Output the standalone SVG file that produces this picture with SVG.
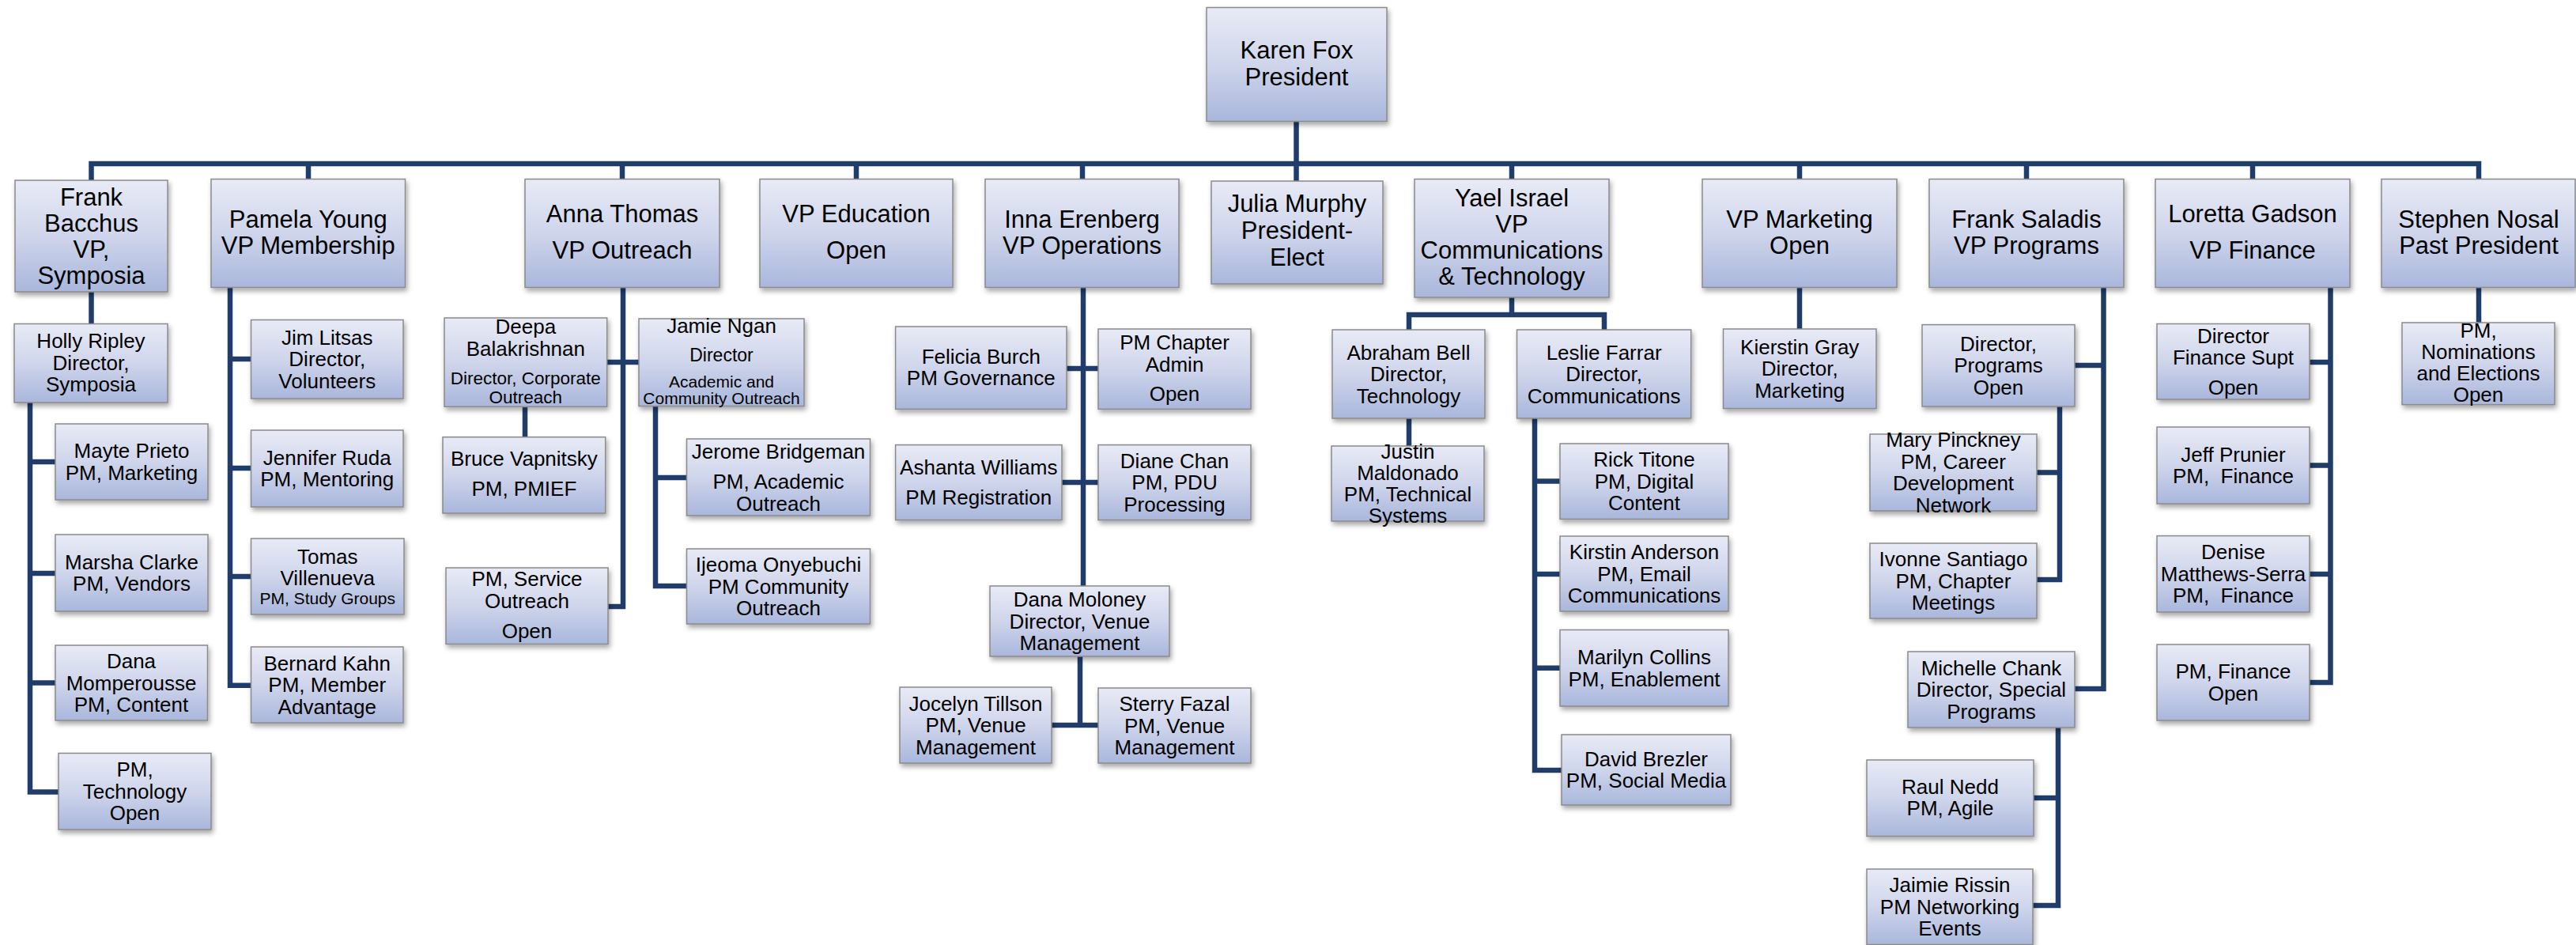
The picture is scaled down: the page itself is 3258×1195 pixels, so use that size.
<svg xmlns="http://www.w3.org/2000/svg" width="3258" height="1195" viewBox="0 0 3258 1195">
<defs>
<linearGradient id="g" x1="0" y1="0" x2="0" y2="1">
<stop offset="0" stop-color="#E8EBF6"/>
<stop offset="0.5" stop-color="#CFD5EB"/>
<stop offset="1" stop-color="#A9B7DC"/>
</linearGradient>
<filter id="sh" x="-10%" y="-10%" width="125%" height="135%">
<feDropShadow dx="2" dy="4" stdDeviation="3" flood-color="#000" flood-opacity="0.35"/>
</filter>
<style>
.b{fill:url(#g);stroke:#8A8A8A;stroke-width:1.5;filter:url(#sh)}
.t{font-family:"Liberation Sans",Arial,sans-serif;text-anchor:middle;fill:#000}
.f31{font-size:31px}
.f26{font-size:26px}
.f23{font-size:23px}
.f22{font-size:22.5px}
.f21{font-size:21px}
.c{fill:none;stroke:#1F3C6B;stroke-width:6.5;stroke-linejoin:miter;stroke-linecap:butt}
</style>
</defs>
<rect width="3258" height="1195" fill="#FFFFFF"/>
<g id="connectors" class="c">
<path d="M115.5,228 V207 H3135 V226.5"/>
<path d="M390,207 V226.5 M787,207 V226.5 M1083,207 V226.5 M1369,207 V226.5 M1912,207 V226.5 M2276,207 V226.5 M2563,207 V226.5 M2849,207 V226.5"/>
<path d="M1639.5,153 V229"/>
<path d="M115.5,369 V409.5"/>
<path d="M38,509 V1001.5 H74 M38,584 H70 M38,725 H70 M38,863.5 H70"/>
<path d="M291,363.6 V866.7 H317.5 M291,454 H317.5 M291,592 H317.5 M291,729 H317.5"/>
<path d="M788,363.6 V767 H769 M767.7,458 H808"/>
<path d="M664,514.3 V552.7"/>
<path d="M829,513.6 V741 H868.5 M829,604 H868.5"/>
<path d="M1370,363.6 V741 M1349,466 H1389 M1343,610 H1389"/>
<path d="M1366,830 V917 M1330,917 H1389"/>
<path d="M1912,376 V398 M1782,417 V398 H2029 V417"/>
<path d="M1782,529 V564"/>
<path d="M1941,529 V974 H1975 M1941,608.6 H1973 M1941,726 H1973 M1941,844.7 H1973"/>
<path d="M2276,363.6 V416"/>
<path d="M2660.5,363.6 V871 H2624 M2660.5,462 H2624"/>
<path d="M2605,514 V733 H2576 M2605,597.6 H2576"/>
<path d="M2603,920 V1145 H2571 M2603,1009 H2572"/>
<path d="M2947.5,363.6 V863 H2921 M2947.5,458 H2921 M2947.5,588.6 H2921 M2947.5,726 H2921"/>
<path d="M3135,363.6 V408"/>
</g>
<g id="n-karen"><rect class="b" x="1526" y="9.5" width="228" height="144"/><text class="t f31"><tspan x="1640" y="73.5">Karen Fox</tspan><tspan x="1640" y="107.5">President</tspan></text></g>
<g id="n-frank-bacchus"><rect class="b" x="19" y="228" width="193" height="141"/><text class="t f31"><tspan x="115.5" y="259.6">Frank</tspan><tspan x="115.5" y="292.8">Bacchus</tspan><tspan x="115.5" y="325.8">VP,</tspan><tspan x="115.5" y="358.8">Symposia</tspan></text></g>
<g id="n-pamela"><rect class="b" x="267" y="226.5" width="245.5" height="137"/><text class="t f31"><tspan x="389.75" y="288">Pamela Young</tspan><tspan x="389.75" y="321">VP Membership</tspan></text></g>
<g id="n-anna"><rect class="b" x="664" y="226.5" width="246" height="137"/><text class="t f31"><tspan x="787" y="281">Anna Thomas</tspan><tspan x="787" y="327">VP Outreach</tspan></text></g>
<g id="n-vp-education"><rect class="b" x="961" y="226.5" width="244" height="137"/><text class="t f31"><tspan x="1083" y="281">VP Education</tspan><tspan x="1083" y="327">Open</tspan></text></g>
<g id="n-inna"><rect class="b" x="1246" y="226.5" width="245" height="137"/><text class="t f31"><tspan x="1368.5" y="288">Inna Erenberg</tspan><tspan x="1368.5" y="321">VP Operations</tspan></text></g>
<g id="n-julia"><rect class="b" x="1532" y="229" width="217" height="130"/><text class="t f31"><tspan x="1640.5" y="268">Julia Murphy</tspan><tspan x="1640.5" y="302">President-</tspan><tspan x="1640.5" y="336">Elect</tspan></text></g>
<g id="n-yael"><rect class="b" x="1789" y="226.5" width="246" height="149.5"/><text class="t f31"><tspan x="1912" y="261">Yael Israel</tspan><tspan x="1912" y="294">VP</tspan><tspan x="1912" y="327">Communications</tspan><tspan x="1912" y="360">&amp; Technology</tspan></text></g>
<g id="n-vp-marketing"><rect class="b" x="2153" y="226.5" width="246" height="137"/><text class="t f31"><tspan x="2276" y="288">VP Marketing</tspan><tspan x="2276" y="321">Open</tspan></text></g>
<g id="n-frank-saladis"><rect class="b" x="2440" y="226.5" width="246" height="137"/><text class="t f31"><tspan x="2563" y="288">Frank Saladis</tspan><tspan x="2563" y="321">VP Programs</tspan></text></g>
<g id="n-loretta"><rect class="b" x="2726" y="226.5" width="246" height="137"/><text class="t f31"><tspan x="2849" y="281">Loretta Gadson</tspan><tspan x="2849" y="327">VP Finance</tspan></text></g>
<g id="n-stephen"><rect class="b" x="3012" y="226.5" width="245" height="137"/><text class="t f31"><tspan x="3135" y="288">Stephen Nosal</tspan><tspan x="3135" y="321">Past President</tspan></text></g>
<g id="n-holly"><rect class="b" x="18" y="409.5" width="194" height="99.5"/><text class="t f26"><tspan x="115" y="440">Holly Ripley</tspan><tspan x="115" y="467.5">Director,</tspan><tspan x="115" y="495">Symposia</tspan></text></g>
<g id="n-mayte"><rect class="b" x="70" y="536" width="193" height="96"/><text class="t f26"><tspan x="166.5" y="579.1">Mayte Prieto</tspan><tspan x="166.5" y="606.6">PM, Marketing</tspan></text></g>
<g id="n-marsha"><rect class="b" x="70" y="676" width="193" height="97"/><text class="t f26"><tspan x="166.5" y="719.9">Marsha Clarke</tspan><tspan x="166.5" y="747.4">PM, Vendors</tspan></text></g>
<g id="n-dana-m"><rect class="b" x="70" y="816" width="192.5" height="95"/><text class="t f26"><tspan x="166" y="845.1">Dana</tspan><tspan x="166" y="872.6">Momperousse</tspan><tspan x="166" y="900.1">PM, Content</tspan></text></g>
<g id="n-pm-tech"><rect class="b" x="74" y="952.5" width="193" height="96.5"/><text class="t f26"><tspan x="170.5" y="982.4">PM,</tspan><tspan x="170.5" y="1009.9">Technology</tspan><tspan x="170.5" y="1037.4">Open</tspan></text></g>
<g id="n-jim"><rect class="b" x="317.5" y="404.5" width="192.5" height="99.5"/><text class="t f26"><tspan x="413.75" y="435.9">Jim Litsas</tspan><tspan x="413.75" y="463.4">Director,</tspan><tspan x="413.75" y="490.9">Volunteers</tspan></text></g>
<g id="n-jennifer"><rect class="b" x="317.5" y="544" width="192.5" height="97"/><text class="t f26"><tspan x="413.75" y="587.9">Jennifer Ruda</tspan><tspan x="413.75" y="615.4">PM, Mentoring</tspan></text></g>
<g id="n-tomas"><rect class="b" x="317.5" y="681" width="193.5" height="96"/><text class="t"><tspan class="f26" x="414.25" y="713">Tomas</tspan><tspan class="f26" x="414.25" y="740">Villenueva</tspan><tspan class="f21" x="414.25" y="763.5">PM, Study Groups</tspan></text></g>
<g id="n-bernard"><rect class="b" x="317.5" y="818" width="192.5" height="96"/><text class="t f26"><tspan x="413.75" y="847.6">Bernard Kahn</tspan><tspan x="413.75" y="875.1">PM, Member</tspan><tspan x="413.75" y="902.6">Advantage</tspan></text></g>
<g id="n-deepa"><rect class="b" x="562" y="402" width="205.7" height="112.3"/><text class="t"><tspan class="f26" x="664.85" y="422.3">Deepa</tspan><tspan class="f26" x="664.85" y="450">Balakrishnan</tspan><tspan class="f22" x="664.85" y="486">Director, Corporate</tspan><tspan class="f22" x="664.85" y="510">Outreach</tspan></text></g>
<g id="n-bruce"><rect class="b" x="560" y="552.7" width="205.7" height="96.3"/><text class="t f26"><tspan x="662.85" y="589.3">Bruce Vapnitsky</tspan><tspan x="662.85" y="627.3">PM, PMIEF</tspan></text></g>
<g id="n-service-outreach"><rect class="b" x="564" y="718" width="205" height="96.5"/><text class="t f26"><tspan x="666.5" y="741">PM, Service</tspan><tspan x="666.5" y="769">Outreach</tspan><tspan x="666.5" y="806.7">Open</tspan></text></g>
<g id="n-jamie"><rect class="b" x="808" y="403" width="209" height="110.6"/><text class="t"><tspan class="f26" x="912.5" y="421">Jamie Ngan</tspan><tspan class="f23" x="912.5" y="457">Director</tspan><tspan class="f21" x="912.5" y="490">Academic and</tspan><tspan class="f21" x="912.5" y="511">Community Outreach</tspan></text></g>
<g id="n-jerome"><rect class="b" x="868.5" y="555" width="232" height="97"/><text class="t f26"><tspan x="984.5" y="580">Jerome Bridgeman</tspan><tspan x="984.5" y="618">PM, Academic</tspan><tspan x="984.5" y="646">Outreach</tspan></text></g>
<g id="n-ijeoma"><rect class="b" x="868.5" y="694" width="232" height="95"/><text class="t f26"><tspan x="984.5" y="723.1">Ijeoma Onyebuchi</tspan><tspan x="984.5" y="750.6">PM Community</tspan><tspan x="984.5" y="778.1">Outreach</tspan></text></g>
<g id="n-felicia"><rect class="b" x="1132.6" y="413" width="216.4" height="104.4"/><text class="t f26"><tspan x="1240.8" y="459.8">Felicia Burch</tspan><tspan x="1240.8" y="487.3">PM Governance</tspan></text></g>
<g id="n-chapter-admin"><rect class="b" x="1389" y="416" width="193" height="101.4"/><text class="t f26"><tspan x="1485.5" y="442">PM Chapter</tspan><tspan x="1485.5" y="470">Admin</tspan><tspan x="1485.5" y="507">Open</tspan></text></g>
<g id="n-ashanta"><rect class="b" x="1132.6" y="562.6" width="210.4" height="95"/><text class="t f26"><tspan x="1237.8" y="599.6">Ashanta Williams</tspan><tspan x="1237.8" y="638">PM Registration</tspan></text></g>
<g id="n-diane"><rect class="b" x="1389" y="562.6" width="193" height="95"/><text class="t f26"><tspan x="1485.5" y="591.7">Diane Chan</tspan><tspan x="1485.5" y="619.2">PM, PDU</tspan><tspan x="1485.5" y="646.7">Processing</tspan></text></g>
<g id="n-dana-moloney"><rect class="b" x="1252" y="741" width="227" height="89"/><text class="t f26"><tspan x="1365.5" y="767.1">Dana Moloney</tspan><tspan x="1365.5" y="794.6">Director, Venue</tspan><tspan x="1365.5" y="822.1">Management</tspan></text></g>
<g id="n-jocelyn"><rect class="b" x="1138" y="869" width="192" height="96"/><text class="t f26"><tspan x="1234" y="898.6">Jocelyn Tillson</tspan><tspan x="1234" y="926.1">PM, Venue</tspan><tspan x="1234" y="953.6">Management</tspan></text></g>
<g id="n-sterry"><rect class="b" x="1389" y="870" width="193" height="95"/><text class="t f26"><tspan x="1485.5" y="899.1">Sterry Fazal</tspan><tspan x="1485.5" y="926.6">PM, Venue</tspan><tspan x="1485.5" y="954.1">Management</tspan></text></g>
<g id="n-abraham"><rect class="b" x="1685" y="417" width="193" height="112"/><text class="t f26"><tspan x="1781.5" y="454.6">Abraham Bell</tspan><tspan x="1781.5" y="482.1">Director,</tspan><tspan x="1781.5" y="509.6">Technology</tspan></text></g>
<g id="n-leslie"><rect class="b" x="1918.5" y="417" width="220.2" height="112"/><text class="t f26"><tspan x="2028.6" y="454.6">Leslie Farrar</tspan><tspan x="2028.6" y="482.1">Director,</tspan><tspan x="2028.6" y="509.6">Communications</tspan></text></g>
<g id="n-justin"><rect class="b" x="1684" y="564" width="193" height="95"/><text class="t f26"><tspan x="1780.5" y="579.5">Justin</tspan><tspan x="1780.5" y="606.8">Maldonado</tspan><tspan x="1780.5" y="634.1">PM, Technical</tspan><tspan x="1780.5" y="661.4">Systems</tspan></text></g>
<g id="n-rick"><rect class="b" x="1973" y="561" width="213" height="95.5"/><text class="t f26"><tspan x="2079.5" y="590.4">Rick Titone</tspan><tspan x="2079.5" y="617.9">PM, Digital</tspan><tspan x="2079.5" y="645.4">Content</tspan></text></g>
<g id="n-kirstin"><rect class="b" x="1973" y="678" width="213" height="95"/><text class="t f26"><tspan x="2079.5" y="707.1">Kirstin Anderson</tspan><tspan x="2079.5" y="734.6">PM, Email</tspan><tspan x="2079.5" y="762.1">Communications</tspan></text></g>
<g id="n-marilyn"><rect class="b" x="1973" y="796.5" width="213" height="96.5"/><text class="t f26"><tspan x="2079.5" y="840.1">Marilyn Collins</tspan><tspan x="2079.5" y="867.6">PM, Enablement</tspan></text></g>
<g id="n-david"><rect class="b" x="1975" y="929" width="214" height="89"/><text class="t f26"><tspan x="2082" y="968.9">David Brezler</tspan><tspan x="2082" y="996.4">PM, Social Media</tspan></text></g>
<g id="n-kierstin"><rect class="b" x="2179.5" y="416" width="193.5" height="100.6"/><text class="t f26"><tspan x="2276.25" y="447.9">Kierstin Gray</tspan><tspan x="2276.25" y="475.4">Director,</tspan><tspan x="2276.25" y="502.9">Marketing</tspan></text></g>
<g id="n-dir-programs"><rect class="b" x="2431" y="410.6" width="193" height="103.4"/><text class="t f26"><tspan x="2527.5" y="443.9">Director,</tspan><tspan x="2527.5" y="471.4">Programs</tspan><tspan x="2527.5" y="498.9">Open</tspan></text></g>
<g id="n-mary"><rect class="b" x="2365" y="549" width="211" height="97"/><text class="t f26"><tspan x="2470.5" y="565.4">Mary Pinckney</tspan><tspan x="2470.5" y="592.9">PM, Career</tspan><tspan x="2470.5" y="620.4">Development</tspan><tspan x="2470.5" y="647.9">Network</tspan></text></g>
<g id="n-ivonne"><rect class="b" x="2365" y="687" width="211" height="95"/><text class="t f26"><tspan x="2470.5" y="716.1">Ivonne Santiago</tspan><tspan x="2470.5" y="743.6">PM, Chapter</tspan><tspan x="2470.5" y="771.1">Meetings</tspan></text></g>
<g id="n-michelle"><rect class="b" x="2413" y="824" width="211" height="96"/><text class="t f26"><tspan x="2518.5" y="853.6">Michelle Chank</tspan><tspan x="2518.5" y="881.1">Director, Special</tspan><tspan x="2518.5" y="908.6">Programs</tspan></text></g>
<g id="n-raul"><rect class="b" x="2361" y="961" width="211" height="96.5"/><text class="t f26"><tspan x="2466.5" y="1003.6">Raul Nedd</tspan><tspan x="2466.5" y="1031.1">PM, Agile</tspan></text></g>
<g id="n-jaimie"><rect class="b" x="2361" y="1099" width="210" height="95.5"/><text class="t f26"><tspan x="2466" y="1128.4">Jaimie Rissin</tspan><tspan x="2466" y="1155.9">PM Networking</tspan><tspan x="2466" y="1183.4">Events</tspan></text></g>
<g id="n-finance-supt"><rect class="b" x="2728" y="409.5" width="193" height="95.5"/><text class="t f26"><tspan x="2824.5" y="434">Director</tspan><tspan x="2824.5" y="461">Finance Supt</tspan><tspan x="2824.5" y="499">Open</tspan></text></g>
<g id="n-jeff"><rect class="b" x="2728" y="540" width="193" height="97"/><text class="t f26"><tspan x="2824.5" y="583.9">Jeff Prunier</tspan><tspan x="2824.5" y="611.4">PM,&#160; Finance</tspan></text></g>
<g id="n-denise"><rect class="b" x="2728" y="677.6" width="193" height="96.4"/><text class="t f26"><tspan x="2824.5" y="707.4">Denise</tspan><tspan x="2824.5" y="734.9">Matthews-Serra</tspan><tspan x="2824.5" y="762.4">PM,&#160; Finance</tspan></text></g>
<g id="n-pm-finance"><rect class="b" x="2728" y="815" width="193" height="96"/><text class="t f26"><tspan x="2824.5" y="858.4">PM, Finance</tspan><tspan x="2824.5" y="885.9">Open</tspan></text></g>
<g id="n-nominations"><rect class="b" x="3038" y="408" width="193" height="103.7"/><text class="t f26"><tspan x="3134.5" y="426.7">PM,</tspan><tspan x="3134.5" y="454.3">Nominations</tspan><tspan x="3134.5" y="481.4">and Elections</tspan><tspan x="3134.5" y="508.2">Open</tspan></text></g>
</svg>
